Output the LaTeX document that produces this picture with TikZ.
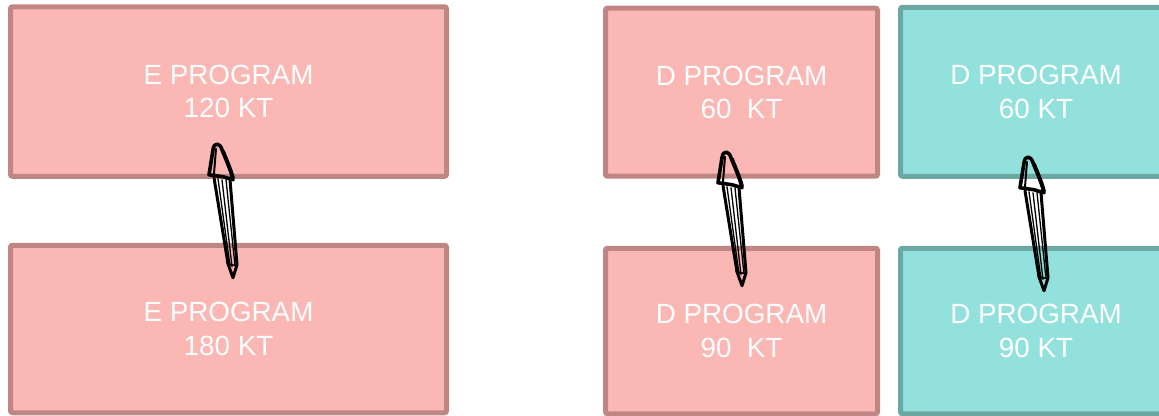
\documentclass[tikz,border=0pt]{standalone}
\usepackage{fontspec}
\setmainfont{Liberation Sans}
\usetikzlibrary{calc}
\definecolor{pinkfill}{RGB}{251,183,180}
\definecolor{pinkline}{RGB}{192,134,131}
\definecolor{tealfill}{RGB}{147,225,220}
\definecolor{tealline}{RGB}{107,168,163}
\tikzset{
  progbox/.style={rectangle, rounded corners=2pt, line width=5pt, text=white, align=center,
    font=\fontsize{27.8}{33.5}\selectfont, inner sep=0pt, outer sep=0pt},
  pinkbox/.style={progbox, draw=pinkline, fill=pinkfill},
  tealbox/.style={progbox, draw=tealline, fill=tealfill},
  sketcharrow/.pic={
    \draw[line width=1.3pt, line join=round, line cap=round]
      (-15,-99) -- (-3,-12) (-11,-98) -- (-1,-11) (-7,-98) -- (2,-12);
    \draw[line width=3pt, line join=round, line cap=round]
      (-19,-100) -- (-5,-14) -- (0,0) -- (4,-13) -- (-3,-98);
    \draw[line width=1.4pt, line join=round, line cap=round]
      (-6,-14) -- (4,-12);
    \draw[line width=3.6pt, line join=round, line cap=round]
      (-24,-103) -- (-20,-128) .. controls (-19,-136) and (-13,-135) .. (-11,-128)
      .. controls (-7,-118) and (-2,-107) .. (0,-98) -- (-10,-101) -- cycle;
    \draw[line width=2pt, line cap=round] (-19,-104) -- (-17,-129);
    \draw[line width=1.6pt, line cap=round] (-9,-127) .. controls (-5,-117) and (-1,-108) .. (1,-100);
  }
}
\begin{document}
\begin{tikzpicture}[x=1pt,y=-1pt]
\useasboundingbox (0,0) rectangle (1159,415);
\clip (0,0) rectangle (1159,415);
\node[pinkbox, minimum width=436pt, minimum height=169.5pt] (et) at (228.5,91.5) {E PROGRAM\\120 KT};
\node[pinkbox, minimum width=436pt, minimum height=167.5pt] (eb) at (228.5,329) {E PROGRAM\\180 KT};
\node[pinkbox, minimum width=272pt, minimum height=168pt] (dt) at (741.5,92.2) {D PROGRAM\\60\ \ KT};
\node[pinkbox, minimum width=272pt, minimum height=165.5pt] (db) at (741.5,331) {D PROGRAM\\90\ \ KT};
\node[tealbox, minimum width=271pt, minimum height=169pt] (tt) at (1036,91.8) {D PROGRAM\\60 KT};
\node[tealbox, minimum width=271pt, minimum height=165.5pt] (tb) at (1036,331) {D PROGRAM\\90 KT};
\coordinate (ea) at ($(eb.north)+(4.5,32.5)$);
\coordinate (da) at ($(db.north)+(0.5,37.5)$);
\coordinate (ta) at ($(tb.north)+(8,42.5)$);
\pic at (ea) {sketcharrow};
\pic at (da) {sketcharrow};
\pic at (ta) {sketcharrow};
\end{tikzpicture}
\end{document}
